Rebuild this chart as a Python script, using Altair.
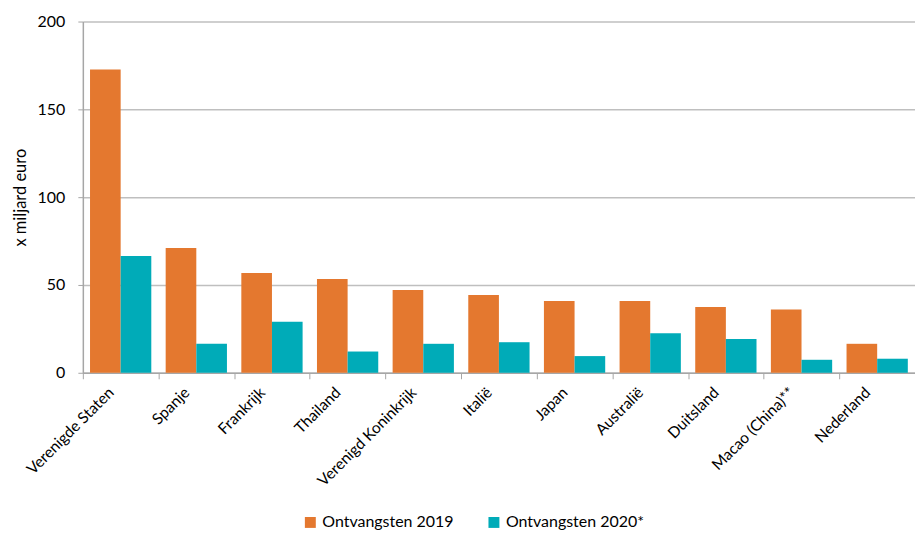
import altair as alt
import pandas as pd

categories = ["Verenigde Staten", "Spanje", "Frankrijk", "Thailand", "Verenigd Koninkrijk",
              "Italië", "Japan", "Australië", "Duitsland", "Macao (China)**", "Nederland"]
v2019 = [172.7, 71.0, 56.8, 53.4, 47.2, 44.3, 40.9, 40.9, 37.5, 36.0, 16.5]
v2020 = [66.5, 16.5, 29.0, 12.1, 16.5, 17.4, 9.5, 22.5, 19.3, 7.4, 8.0]
series = ["Ontvangsten 2019", "Ontvangsten 2020*"]
colors = ["#E4782F", "#00ABB8"]

rows = []
for c, a, b in zip(categories, v2019, v2020):
    rows.append({"land": c, "reeks": series[0], "waarde": a})
    rows.append({"land": c, "reeks": series[1], "waarde": b})
df = pd.DataFrame(rows)

W = 834
H = 352
step = W / 11.0
FONT = "Lato"

chart = alt.Chart(df).mark_bar().encode(
    x=alt.X("land:N", sort=categories, title=None,
            scale=alt.Scale(paddingInner=0.19, paddingOuter=0.095),
            axis=alt.Axis(labelAngle=-45, labelFontSize=15.5, labelFont=FONT, labelColor="#000000",
                          domainColor="#A6A6A6", domainWidth=1.5, tickColor="#A6A6A6",
                          tickSize=6, tickWidth=1, tickOffset=-step / 2, labelOffset=23,
                          labelPadding=6, grid=False)),
    xOffset=alt.XOffset("reeks:N", sort=series, scale=alt.Scale(paddingInner=0, paddingOuter=0)),
    y=alt.Y("waarde:Q", title="x miljard euro",
            scale=alt.Scale(domain=[0, 200], nice=False),
            axis=alt.Axis(values=[0, 50, 100, 150, 200], labelFontSize=16, labelFont=FONT,
                          labelColor="#000000", titleFont=FONT, titleFontSize=16.5,
                          titleFontWeight="normal", titleColor="#000000", titlePadding=9,
                          domainColor="#A6A6A6", domainWidth=1.5, tickColor="#A6A6A6",
                          tickSize=5, labelPadding=13, gridColor="#BFBFBF", gridWidth=1.5)),
    color=alt.Color("reeks:N", sort=series, scale=alt.Scale(domain=series, range=colors),
                    legend=alt.Legend(orient="none", legendX=220, legendY=494, title=None,
                                      direction="horizontal",
                                      labelFontSize=16, labelFont=FONT, labelColor="#000000",
                                      symbolType="square", symbolSize=120, symbolStrokeWidth=0,
                                      labelOffset=4, columnPadding=32)),
).properties(
    width=W, height=H,
    padding={"left": 4, "top": 5, "right": 0, "bottom": 0}
).configure_view(stroke=None)

chart.save("out.html", embed_options={"renderer": "svg", "actions": False})
